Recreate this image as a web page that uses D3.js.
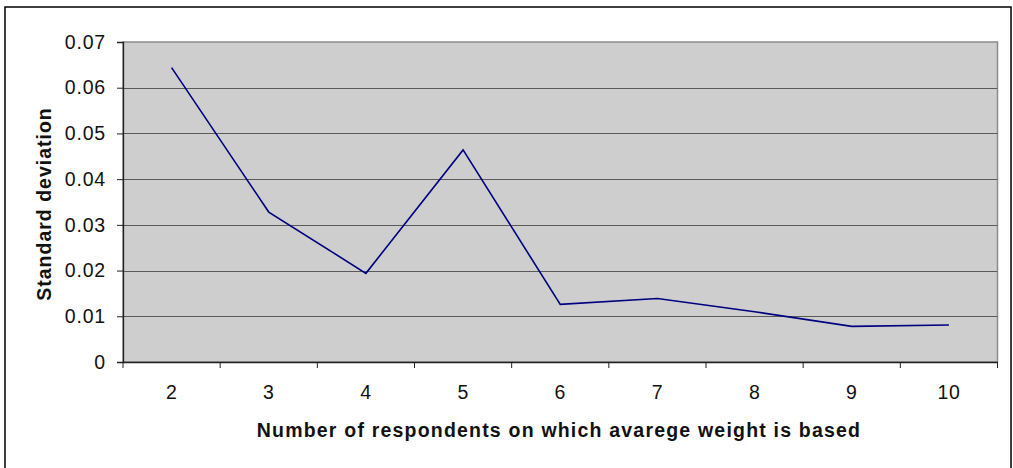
<!DOCTYPE html>
<html>
<head>
<meta charset="utf-8">
<style>
  body { margin: 0; background: #fff; }
  text { font-family: "Liberation Sans", Arial, sans-serif; }
</style>
</head>
<body>
<svg width="1013" height="468"></svg>
<script src="https://d3js.org/d3.v7.min.js"></script>
<script>
// data
var respondents = [2, 3, 4, 5, 6, 7, 8, 9, 10];
var stdDev = [0.0644, 0.0328, 0.0194, 0.0464, 0.0126, 0.0139, 0.0110, 0.0078, 0.0081];
var yTicks = [0, 0.01, 0.02, 0.03, 0.04, 0.05, 0.06, 0.07];
var xTitle = "Number of respondents on which avarege weight is based";
var yTitle = "Standard deviation";

var svg = d3.select("svg");
var plot = { left: 123, top: 42, right: 997.5, bottom: 362 };

// outer frame
svg.append("rect")
    .attr("x", 5).attr("y", 7)
    .attr("width", 1006).attr("height", 470)
    .attr("fill", "#fff")
    .attr("stroke", "#000")
    .attr("stroke-width", 1.5);

var x = d3.scaleBand()
    .domain(respondents)
    .range([plot.left, plot.right]);

var y = d3.scaleLinear()
    .domain([0, 0.07])
    .range([plot.bottom, plot.top]);

// plot background
svg.append("rect")
    .attr("x", plot.left).attr("y", plot.top)
    .attr("width", plot.right - plot.left)
    .attr("height", plot.bottom - plot.top)
    .attr("fill", "#cecece")
    .attr("stroke", "#8c8c8c")
    .attr("stroke-width", 1.5);

// gridlines
svg.append("g")
  .selectAll("line")
  .data(yTicks.slice(1, -1))
  .enter().append("line")
    .attr("x1", plot.left).attr("x2", plot.right)
    .attr("y1", function(d) { return Math.round(y(d)) + 0.5; })
    .attr("y2", function(d) { return Math.round(y(d)) + 0.5; })
    .attr("stroke", "#5a5a5a")
    .attr("stroke-width", 1.2);

// y axis
var yAxis = svg.append("g")
    .attr("transform", "translate(" + plot.left + ",0)")
    .call(d3.axisLeft(y)
        .tickValues(yTicks)
        .tickSize(6)
        .tickPadding(11)
        .tickFormat(function(d) { return d === 0 ? "0" : d3.format(".2f")(d); }));
yAxis.select(".domain").attr("stroke", "#222").attr("stroke-width", 1.3);
yAxis.selectAll(".tick line").attr("stroke", "#222");
yAxis.selectAll("text")
    .attr("font-size", 19.5)
    .attr("letter-spacing", 0.8)
    .attr("fill", "#111")
    .style("font-family", "'Liberation Sans', Arial, sans-serif");

// x axis
var xAxis = svg.append("g")
    .attr("transform", "translate(0," + plot.bottom + ")")
    .call(d3.axisBottom(x).tickSize(0).tickPadding(23));
xAxis.select(".domain").attr("stroke", "#222").attr("stroke-width", 1.3);
xAxis.selectAll("text")
    .attr("font-size", 19.5)
    .attr("letter-spacing", 0.5)
    .attr("fill", "#111")
    .style("font-family", "'Liberation Sans', Arial, sans-serif");

// category boundary ticks
svg.append("g")
  .selectAll("line")
  .data(respondents.concat([null]))
  .enter().append("line")
    .attr("x1", function(d, i) { return plot.left + i * x.step(); })
    .attr("x2", function(d, i) { return plot.left + i * x.step(); })
    .attr("y1", plot.bottom)
    .attr("y2", plot.bottom + 6)
    .attr("stroke", "#222");

// series line
var line = d3.line()
    .x(function(d, i) { return x(respondents[i]) + x.bandwidth() / 2; })
    .y(function(d) { return y(d); });

svg.append("path")
    .datum(stdDev)
    .attr("fill", "none")
    .attr("stroke", "#000080")
    .attr("stroke-width", 1.6)
    .attr("d", line);

// axis titles
svg.append("text")
    .attr("x", 559)
    .attr("y", 437)
    .attr("text-anchor", "middle")
    .attr("font-size", 19.5)
    .attr("letter-spacing", 1.2)
    .attr("font-weight", "bold")
    .attr("fill", "#111")
    .text(xTitle);

svg.append("text")
    .attr("transform", "translate(51,204) rotate(-90)")
    .attr("text-anchor", "middle")
    .attr("font-size", 19.5)
    .attr("letter-spacing", 1)
    .attr("font-weight", "bold")
    .attr("fill", "#111")
    .text(yTitle);
</script>
</body>
</html>
